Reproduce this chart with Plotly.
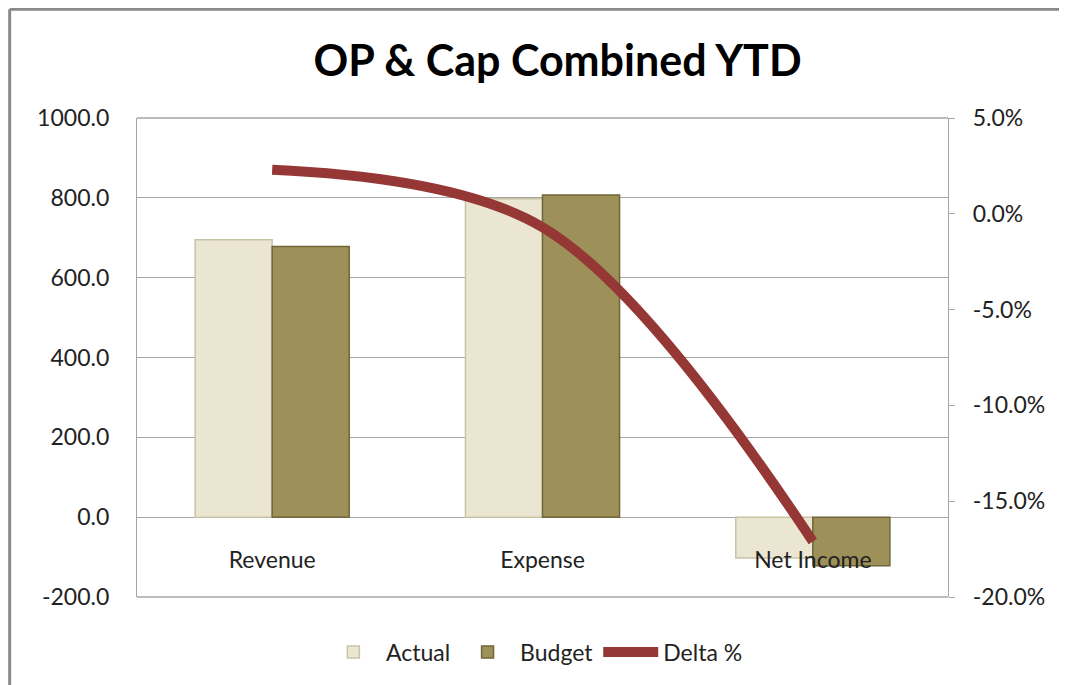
import plotly.graph_objects as go

categories = ["Revenue", "Expense", "Net Income"]
actual = [695, 798, -102]
budget = [678, 807, -122]
delta_pct = [0.023, -0.007, -0.171]

left_ticks = [-200, 0, 200, 400, 600, 800, 1000]
left_labels = ["-200.0", "0.0", "200.0", "400.0", "600.0", "800.0", "1000.0"]
right_ticks = [-0.20, -0.15, -0.10, -0.05, 0.0, 0.05]
right_labels = ["-20.0%", "-15.0%", "-10.0%", "-5.0%", "0.0%", "5.0%"]

FONT = "Lato"
GRID = "#A6A6A6"

fig = go.Figure()
fig.add_trace(go.Bar(
    name="Actual", x=categories, y=actual,
    marker=dict(color="#EBE6D2", line=dict(color="#C9C3A6", width=1.5)),
))
fig.add_trace(go.Bar(
    name="Budget", x=categories, y=budget,
    marker=dict(color="#9D9058", line=dict(color="#6F6639", width=1.5)),
))
fig.add_trace(go.Scatter(
    name="Delta %", x=categories, y=delta_pct, yaxis="y2",
    mode="lines", line=dict(color="#953735", width=10, shape="spline", smoothing=1.0),
))

fig.update_layout(
    width=1059, height=677,
    margin=dict(l=129, r=119, t=110, b=88),
    paper_bgcolor="white", plot_bgcolor="white",
    font=dict(family=FONT, size=23, color="#222222"),
    title=dict(text="<b>OP &amp; Cap Combined YTD</b>", x=0.519, xanchor="center",
               y=0.922, yanchor="middle", font=dict(family=FONT, size=43, color="black")),
    barmode="group", bargap=0.43, bargroupgap=0,
    showlegend=True,
    legend=dict(orientation="h", x=0.49, xanchor="center", y=-0.07, yanchor="top",
                font=dict(size=23), traceorder="normal", itemwidth=55),
    xaxis=dict(type="category", anchor="free", position=1/6, showline=False,
               showgrid=False, ticks="", ticklabelstandoff=27, zeroline=False),
    yaxis=dict(range=[-200, 1000], tickvals=left_ticks, ticktext=left_labels,
               showgrid=True, gridcolor=GRID, gridwidth=1.3, zeroline=True,
               zerolinecolor=GRID, zerolinewidth=1.3, showline=True, linecolor=GRID,
               linewidth=1.3, ticks="", ticklabelstandoff=22),
    yaxis2=dict(range=[-0.20, 0.05], tickvals=right_ticks, ticktext=right_labels,
                overlaying="y", side="right", showgrid=False, zeroline=False,
                showline=True, linecolor=GRID, linewidth=1.3, ticks="outside",
                ticklen=6, tickcolor=GRID, ticklabelstandoff=13),
    shapes=[
        dict(type="line", xref="x domain", yref="y domain", x0=0, x1=1, y0=1, y1=1,
             line=dict(color=GRID, width=1.3), layer="below"),
        dict(type="line", xref="x domain", yref="y domain", x0=0, x1=1, y0=0, y1=0,
             line=dict(color=GRID, width=1.3), layer="below"),
        dict(type="line", xref="paper", yref="paper", x0=-0.157, x1=1.2, y0=1.227, y1=1.227,
             line=dict(color="#898989", width=3), layer="below"),
        dict(type="line", xref="paper", yref="paper", x0=-0.157, x1=-0.157, y0=-0.3, y1=1.227,
             line=dict(color="#898989", width=3), layer="below"),
    ],
)

fig.write_html("out.html")
